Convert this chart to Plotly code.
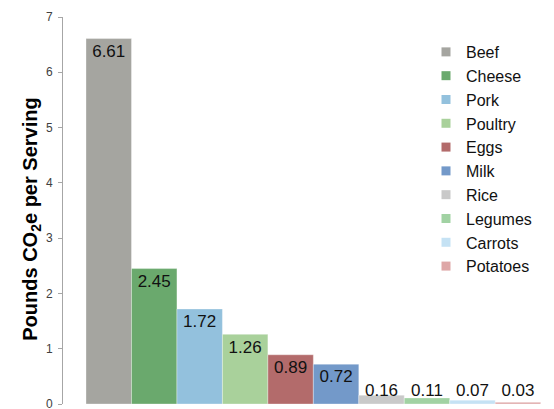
import plotly.graph_objects as go

# Carbon footprint per serving of common foods
foods = ["Beef", "Cheese", "Pork", "Poultry", "Eggs", "Milk",
         "Rice", "Legumes", "Carrots", "Potatoes"]
pounds_co2e = [6.61, 2.45, 1.72, 1.26, 0.89, 0.72, 0.16, 0.11, 0.07, 0.03]
colors = ["#a5a5a0", "#6aa96d", "#93c1dd", "#a9d19b", "#b36b6b",
          "#7399c9", "#c9c9c9", "#a1d2a3", "#c5e2f4", "#dea7a7"]
y_ticks = [0, 1, 2, 3, 4, 5, 6, 7]

FONT = "Liberation Sans, Arial, sans-serif"
PX_PER_UNIT = 387.5 / 7.0  # plot height in px over the y range

fig = go.Figure()

positions = list(range(len(foods)))

# One bar per food, each in its own colour
for i, (food, val, col) in enumerate(zip(foods, pounds_co2e, colors)):
    fig.add_trace(go.Bar(
        x=[positions[i]], y=[val], width=1.0,
        marker=dict(color=col, line=dict(width=0.6, color="rgba(255,255,255,0.55)")),
        showlegend=False, hoverinfo="skip",
    ))
    # legend entry with a small square swatch
    fig.add_trace(go.Scatter(
        x=[None], y=[None], mode="markers", name=food,
        marker=dict(symbol="square", size=9, color=col),
    ))

# Value labels just inside the top of each bar, kept above the baseline
label_y = [max(v - 14 / PX_PER_UNIT, 12 / PX_PER_UNIT) for v in pounds_co2e]
fig.add_trace(go.Scatter(
    x=positions, y=label_y, mode="text",
    text=[f"{v:.2f}" for v in pounds_co2e],
    textposition="middle center",
    textfont=dict(family=FONT, size=17, color="#111111"),
    showlegend=False, hoverinfo="skip",
))

fig.update_layout(
    width=554, height=409,
    margin=dict(l=63, r=0, t=17, b=4.5, pad=0, autoexpand=False),
    paper_bgcolor="white", plot_bgcolor="white",
    barmode="overlay",
    font=dict(family=FONT, color="#222222"),
    showlegend=True,
    legend=dict(
        x=(426 - 63) / 491, xanchor="left",
        y=(404.5 - 35) / 387.5, yanchor="top",
        font=dict(family=FONT, size=16, color="#111111"),
        bgcolor="rgba(0,0,0,0)", itemsizing="trace",
        tracegroupgap=0,
    ),
    xaxis=dict(
        range=[-1.006, 9.793], visible=False, showgrid=False, zeroline=False,
        automargin=False,
    ),
    yaxis=dict(
        range=[0, 7], tickvals=y_ticks, ticktext=[str(t) for t in y_ticks],
        showgrid=False, zeroline=False, automargin=False,
        showline=True, linecolor="#a6a6a6", linewidth=1,
        ticks="outside", ticklen=4, tickcolor="#a6a6a6", tickwidth=1,
        tickfont=dict(family=FONT, size=12, color="#404040"),
        ticklabelstandoff=3, ticklabeloverflow="allow",
    ),
    annotations=[dict(
        text="<b>Pounds CO<sub>2</sub>e per Serving</b>",
        xref="paper", yref="paper",
        x=(32 - 63) / 491, y=(404.5 - 220) / 387.5,
        xanchor="center", yanchor="middle", textangle=-90, showarrow=False,
        font=dict(family=FONT, size=20, color="#000000"),
    )],
)

fig.write_html("out.html")
